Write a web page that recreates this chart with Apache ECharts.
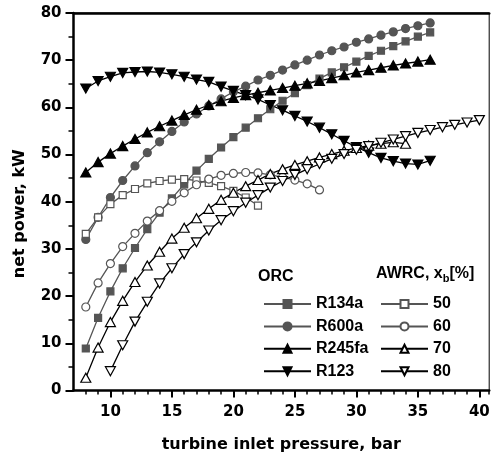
<!DOCTYPE html>
<html>
<head>
<meta charset="utf-8">
<script src="https://cdn.jsdelivr.net/npm/echarts@6/dist/echarts.min.js"></script>
<style>
  html, body { margin: 0; padding: 0; background: #fff; }
  #chart { width: 491px; height: 455px; }
</style>
</head>
<body>
<div id="chart"></div>
<script>
// turbine inlet pressure (bar)
const pOrc = [8, 9, 10, 11, 12, 13, 14, 15, 16, 17, 18, 19, 20, 21, 22, 23, 24, 25, 26, 27, 28, 29, 30, 31, 32, 33, 34, 35, 36];
const p50 = [8, 9, 10, 11, 12, 13, 14, 15, 16, 17, 18, 19, 20, 21, 22];
const p60 = [8, 9, 10, 11, 12, 13, 14, 15, 16, 17, 18, 19, 20, 21, 22, 23, 24, 25, 26, 27];
const p70 = [8, 9, 10, 11, 12, 13, 14, 15, 16, 17, 18, 19, 20, 21, 22, 23, 24, 25, 26, 27, 28, 29, 30, 31, 32, 33, 34];
const p80 = [10, 11, 12, 13, 14, 15, 16, 17, 18, 19, 20, 21, 22, 23, 24, 25, 26, 27, 28, 29, 30, 31, 32, 33, 34, 35, 36, 37, 38, 39, 40];

// net power (kW), ORC
const r134a = [8.9, 15.4, 21.0, 25.9, 30.2, 34.2, 37.7, 40.7, 43.7, 46.6, 49.1, 51.5, 53.7, 55.7, 57.7, 59.6, 61.4, 63.0, 64.7, 66.1, 67.4, 68.5, 69.7, 70.9, 72.0, 73.0, 74.0, 75.0, 75.9];
const r600a = [32.0, 36.7, 40.9, 44.5, 47.6, 50.4, 52.7, 54.9, 56.9, 58.6, 60.3, 61.8, 63.3, 64.5, 65.8, 66.8, 67.9, 69.0, 70.0, 71.1, 72.0, 72.8, 73.8, 74.5, 75.3, 76.0, 76.7, 77.3, 77.9];
const r245fa = [46.2, 48.4, 50.2, 51.8, 53.3, 54.7, 56.0, 57.2, 58.4, 59.5, 60.5, 61.3, 62.0, 62.6, 63.1, 63.6, 64.1, 64.6, 65.1, 65.6, 66.2, 66.8, 67.4, 67.9, 68.4, 68.9, 69.3, 69.7, 70.1];
const r123 = [64.0, 65.6, 66.5, 67.3, 67.5, 67.6, 67.4, 67.0, 66.5, 65.9, 65.4, 64.4, 63.5, 62.6, 61.7, 60.5, 59.4, 58.2, 57.0, 55.7, 54.3, 52.9, 51.6, 50.4, 49.3, 48.6, 48.1, 47.9, 48.7];

// net power (kW), AWRC by ammonia fraction
const awrc50 = [33.2, 36.7, 39.5, 41.4, 42.7, 43.9, 44.4, 44.7, 44.8, 44.5, 44.0, 43.3, 42.3, 40.9, 39.2];
const awrc60 = [17.7, 22.8, 26.9, 30.5, 33.3, 35.9, 38.1, 40.1, 41.9, 43.6, 44.8, 45.6, 46.0, 46.2, 46.1, 45.7, 45.2, 44.6, 43.8, 42.5];
const awrc70 = [2.7, 9.1, 14.5, 19.0, 23.0, 26.5, 29.4, 32.2, 34.5, 36.5, 38.5, 40.4, 41.9, 43.3, 44.6, 45.9, 46.9, 47.8, 48.6, 49.4, 50.1, 50.8, 51.4, 51.9, 52.3, 52.6, 52.3];
const awrc80 = [4.1, 9.6, 14.6, 18.8, 22.7, 25.9, 28.9, 31.4, 33.9, 36.1, 38.0, 39.8, 41.4, 43.0, 44.4, 45.7, 46.9, 48.0, 49.1, 50.1, 51.0, 51.8, 52.5, 53.2, 53.9, 54.6, 55.2, 55.8, 56.3, 56.8, 57.3];

const xMajor = [10, 15, 20, 25, 30, 35, 40];

const GREY = '#555';
const DOWN = 'path://M0,0L10,0L5,9Z';
const axisFont = 'DejaVu Sans';
const legendFont = 'Liberation Sans';

const mk = (name, xs, ys, symbol, size, color, fill) => ({
  name: name,
  type: 'line',
  data: xs.map((x, i) => [x, ys[i]]),
  symbol: symbol,
  symbolSize: size,
  lineStyle: { color: color, width: 1.3 },
  itemStyle: { color: fill, borderColor: color, borderWidth: 1.2 },
  emphasis: { disabled: true },
  animation: false
});

const chart = echarts.init(document.getElementById('chart'));

chart.setOption({
  animation: false,
  grid: {
    left: 73.5, right: 1.8, top: 13, bottom: 64.5,
    outerBoundsMode: 'none',
    show: true, borderColor: '#000', borderWidth: 1
  },
  xAxis: [{
    type: 'value', min: 7, max: 40.8, interval: 1,
    name: 'turbine inlet pressure, bar',
    nameLocation: 'middle', nameGap: 46,
    nameTextStyle: { fontFamily: axisFont, fontWeight: 'bold', fontSize: 16, color: '#000' },
    axisLine: { show: true, lineStyle: { color: '#000', width: 2.5 } },
    axisTick: { show: true, length: 4, lineStyle: { color: '#000', width: 1.5 } },
    axisLabel: {
      margin: 14, fontFamily: axisFont, fontWeight: 'bold', fontSize: 15, color: '#000',
      showMinLabel: false,
      formatter: (v) => (v % 5 === 0 ? String(v) : '')
    },
    splitLine: { show: false }
  }, {
    type: 'value', min: 7, max: 40.8, position: 'bottom',
    axisLine: { show: false },
    axisTick: { show: true, length: 7, customValues: xMajor, lineStyle: { color: '#000', width: 2 } },
    axisLabel: { show: true, customValues: xMajor, color: 'transparent' },
    splitLine: { show: false }
  }, {
    type: 'value', min: 7, max: 40.8, position: 'top',
    axisLine: { show: true, lineStyle: { color: '#000', width: 2.5 } },
    axisTick: { show: false }, axisLabel: { show: false }, splitLine: { show: false }
  }],
  yAxis: {
    type: 'value', min: 0, max: 80, interval: 10,
    name: 'net power, kW',
    nameLocation: 'middle', nameGap: 46, nameRotate: 90,
    nameTextStyle: { fontFamily: axisFont, fontWeight: 'bold', fontSize: 16, color: '#000', padding: [0, 24, 0, 0] },
    axisLine: { show: true, lineStyle: { color: '#000', width: 2.5 } },
    axisTick: { show: true, length: 8, lineStyle: { color: '#000', width: 2 } },
    minorTick: { show: true, splitNumber: 2, length: 5, lineStyle: { color: '#000', width: 1.5 } },
    axisLabel: { margin: 12, fontFamily: axisFont, fontWeight: 'bold', fontSize: 15, color: '#000' },
    splitLine: { show: false }
  },
  legend: [{
    data: ['R134a', 'R600a', 'R245fa', 'R123'],
    orient: 'vertical', left: 258, top: 291,
    itemWidth: 47, itemHeight: 10, itemGap: 6.4,
    selectedMode: false,
    textStyle: { fontFamily: legendFont, fontWeight: 'bold', fontSize: 16, color: '#000', lineHeight: 16 }
  }, {
    data: ['50', '60', '70', '80'],
    orient: 'vertical', left: 375, top: 291,
    itemWidth: 47, itemHeight: 10, itemGap: 6.4,
    selectedMode: false,
    textStyle: { fontFamily: legendFont, fontWeight: 'bold', fontSize: 16, color: '#000', lineHeight: 16 }
  }],
  graphic: [{
    type: 'text', left: 258, top: 269,
    style: { text: 'ORC', fontFamily: legendFont, fontWeight: 'bold', fontSize: 16, fill: '#000' }
  }, {
    type: 'text', left: 376, top: 266,
    style: {
      text: '{a|AWRC, x}{b|b}{a|[%]}',
      rich: {
        a: { fontFamily: legendFont, fontWeight: 'bold', fontSize: 16, lineHeight: 20, fill: '#000' },
        b: { fontFamily: legendFont, fontWeight: 'bold', fontSize: 11, lineHeight: 20, verticalAlign: 'bottom', fill: '#000' }
      }
    }
  }],
  series: [
    mk('R134a', pOrc, r134a, 'rect', 7, GREY, GREY),
    mk('R600a', pOrc, r600a, 'circle', 8, GREY, GREY),
    mk('R245fa', pOrc, r245fa, 'triangle', [10, 9], '#000', '#000'),
    mk('R123', pOrc, r123, DOWN, [10, 9], '#000', '#000'),
    mk('50', p50, awrc50, 'rect', 7, GREY, '#fff'),
    mk('60', p60, awrc60, 'circle', 8, GREY, '#fff'),
    mk('70', p70, awrc70, 'triangle', [10, 9], '#000', '#fff'),
    mk('80', p80, awrc80, DOWN, [10, 9], '#000', '#fff')
  ]
});
</script>
</body>
</html>
